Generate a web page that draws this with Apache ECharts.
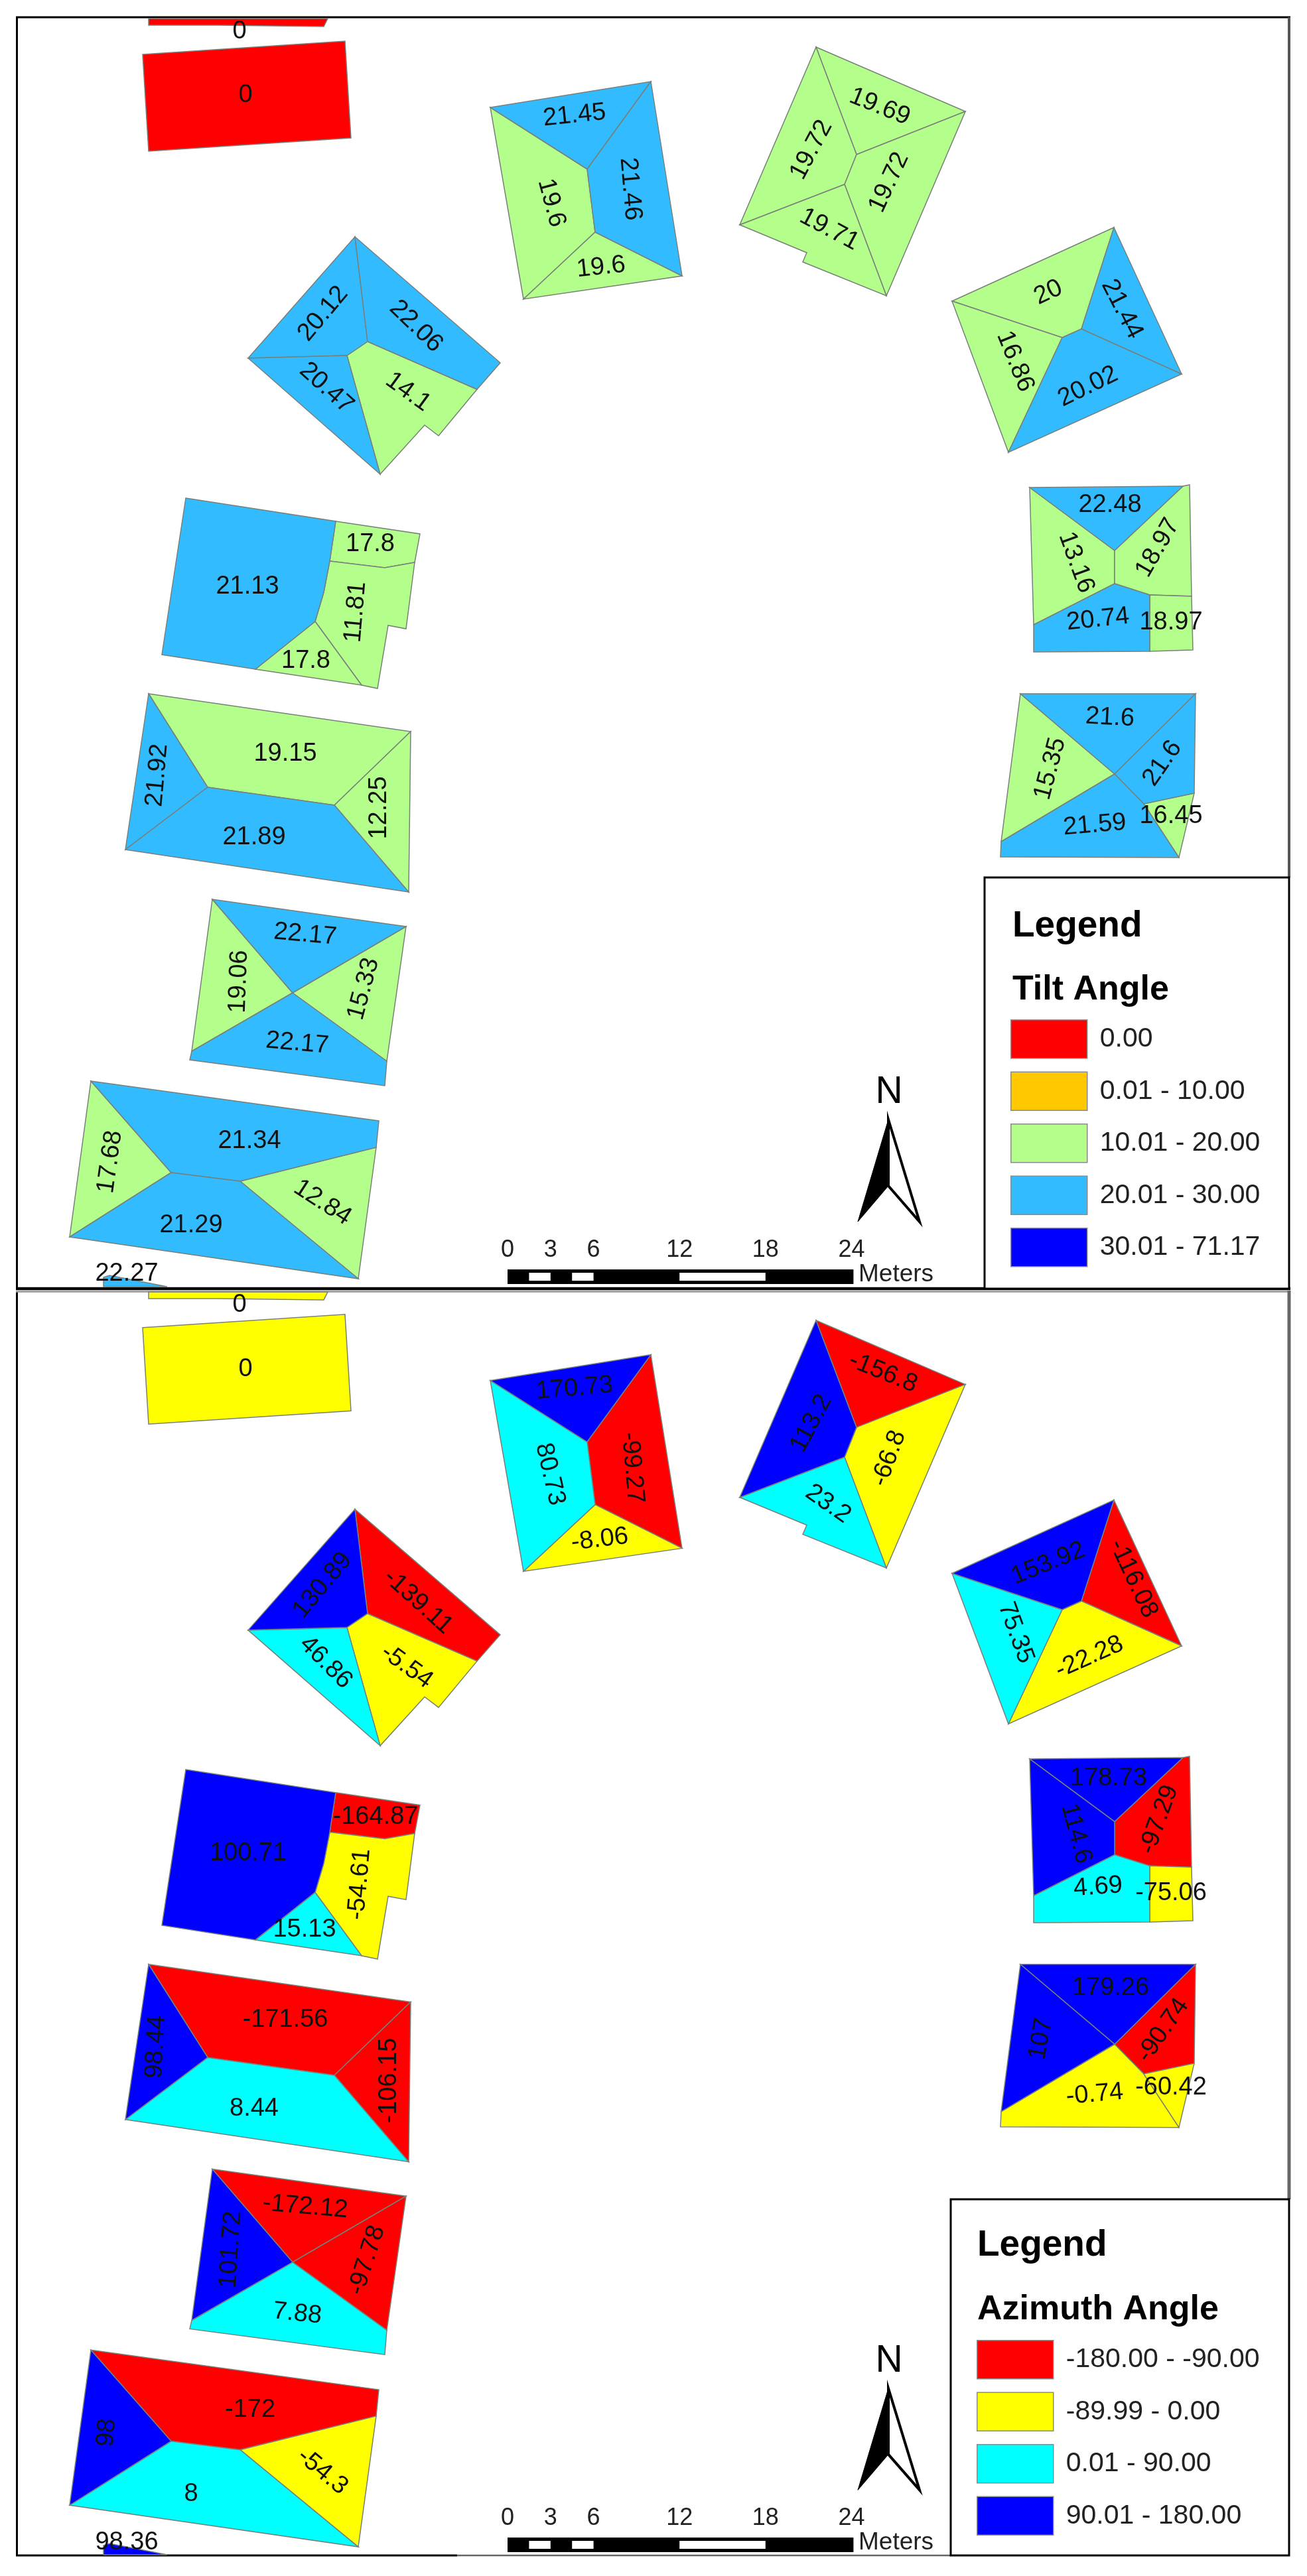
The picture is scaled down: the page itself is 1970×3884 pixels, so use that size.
<!DOCTYPE html>
<html lang="en">
<head>
    <meta charset="UTF-8">
    <title>Tilt and azimuth angle of roof facets</title>
    <script src="https://cdn.jsdelivr.net/npm/echarts@6/dist/echarts.min.js"></script>
    <style>
        html, body { margin: 0; padding: 0; background: #fff; }
    </style>
</head>
<body>
<div id="chart" style="width:1970px;height:3884px"></div>
<script>
    // roof facets, vertices in map units (same map in both panels)
    var roofFacets = [
        [[224, 28], [224, 38], [330, 38], [488, 40], [494, 28]],
        [[215, 82], [520, 62], [529, 208], [224, 228]],
        [[739, 162], [981, 123], [885, 255]],
        [[981, 123], [1028, 416], [897, 350], [885, 255]],
        [[739, 162], [885, 255], [897, 350], [789, 451]],
        [[789, 451], [897, 350], [1028, 416]],
        [[535, 357], [554, 515], [523, 536], [374, 540]],
        [[535, 357], [754, 547], [719, 587], [554, 515]],
        [[374, 540], [523, 536], [573, 715]],
        [[554, 515], [719, 587], [661, 657], [640, 641], [573, 715], [523, 536]],
        [[280, 751], [506, 786], [497, 846], [488, 893], [475, 937], [385, 1009], [244, 987]],
        [[506, 786], [633, 805], [625, 848], [580, 856], [497, 846]],
        [[497, 846], [580, 856], [625, 848], [612, 948], [585, 943], [569, 1038], [545, 1033], [475, 937], [488, 893]],
        [[475, 937], [545, 1033], [385, 1009]],
        [[224, 1046], [619, 1103], [504, 1214], [313, 1187]],
        [[224, 1046], [313, 1187], [189, 1281]],
        [[313, 1187], [504, 1214], [616, 1345], [189, 1281]],
        [[619, 1103], [616, 1345], [504, 1214]],
        [[320, 1356], [612, 1397], [441, 1497]],
        [[612, 1397], [583, 1600], [441, 1497]],
        [[320, 1356], [441, 1497], [289, 1585]],
        [[441, 1497], [583, 1600], [580, 1637], [286, 1598], [289, 1585]],
        [[137, 1630], [571, 1690], [567, 1730], [362, 1781], [258, 1768]],
        [[137, 1630], [258, 1768], [105, 1865]],
        [[258, 1768], [362, 1781], [540, 1928], [105, 1865]],
        [[567, 1730], [540, 1928], [362, 1781]],
        [[156, 1926], [165, 1923], [252, 1940], [156, 1940]],
        [[1230, 71], [1455, 168], [1291, 233]],
        [[1230, 71], [1291, 233], [1273, 278], [1115, 339]],
        [[1291, 233], [1455, 168], [1336, 446], [1273, 278]],
        [[1115, 339], [1273, 278], [1336, 446], [1210, 395], [1216, 381]],
        [[1435, 454], [1679, 343], [1630, 496], [1601, 509]],
        [[1679, 343], [1781, 564], [1630, 496]],
        [[1601, 509], [1630, 496], [1781, 564], [1520, 682]],
        [[1435, 454], [1601, 509], [1520, 682]],
        [[1552, 735], [1783, 733], [1680, 830]],
        [[1552, 735], [1680, 830], [1680, 880], [1558, 942]],
        [[1783, 733], [1793, 731], [1796, 899], [1733, 897], [1680, 880], [1680, 830]],
        [[1680, 880], [1733, 897], [1733, 982], [1558, 983], [1558, 942]],
        [[1733, 897], [1796, 899], [1798, 980], [1733, 982]],
        [[1538, 1046], [1802, 1046], [1680, 1167]],
        [[1802, 1046], [1800, 1196], [1724, 1212], [1680, 1167]],
        [[1538, 1046], [1680, 1167], [1509, 1269]],
        [[1680, 1167], [1724, 1212], [1777, 1293], [1508, 1292], [1509, 1269]],
        [[1724, 1212], [1800, 1196], [1777, 1293]]
    ];

    // attribute values, same order as roofFacets
    var tiltValues = [0, 0, 21.45, 21.46, 19.6, 19.6, 20.12, 22.06, 20.47, 14.1, 21.13, 17.8, 11.81, 17.8,
        19.15, 21.92, 21.89, 12.25, 22.17, 15.33, 19.06, 22.17, 21.34, 17.68, 21.29, 12.84, 22.27,
        19.69, 19.72, 19.72, 19.71, 20, 21.44, 20.02, 16.86, 22.48, 13.16, 18.97, 20.74, 18.97,
        21.6, 21.6, 15.35, 21.59, 16.45];
    var azimuthValues = [0, 0, 170.73, -99.27, 80.73, -8.06, 130.89, -139.11, 46.86, -5.54, 100.71, -164.87, -54.61, 15.13,
        -171.56, 98.44, 8.44, -106.15, -172.12, -97.78, 101.72, 7.88, -172, 98, 8, -54.3, 98.36,
        -156.8, 113.2, -66.8, 23.2, 153.92, -116.08, -22.28, 75.35, 178.73, 114.6, -97.29, 4.69, -75.06,
        179.26, -90.74, 107, -0.74, -60.42];

    // label anchors: x, y, degrees clockwise
    var tiltLabelAt = [[361, 48, 0], [370, 144, 0], [866, 174, -6], [950, 285, 85], [831, 306, 75], [906, 403, -6],
        [487, 473, -50], [627, 492, 44], [492, 585, 42], [615, 591, 36], [373, 885, 0], [558, 821, 0], [536, 923, -85], [461, 997, 0],
        [430, 1137, 0], [237, 1169, -85], [383, 1263, 0], [572, 1218, -90], [460, 1409, 5], [548, 1491, -75], [360, 1480, -88], [448, 1573, 5],
        [376, 1721, 0], [166, 1752, -82], [288, 1848, 0], [486, 1813, 33], [191, 1921, 0],
        [1326, 161, 22], [1223, 226, -62], [1340, 275, -65], [1250, 346, 28], [1580, 441, -25], [1691, 466, 63], [1640, 583, -26], [1530, 545, 68],
        [1673, 762, 0], [1622, 848, 70], [1745, 826, -60], [1655, 934, -6], [1765, 939, 0],
        [1673, 1082, 3], [1752, 1151, -55], [1583, 1159, -75], [1650, 1244, -5], [1765, 1231, 0]];
    var azimuthLabelAt = [[361, 48, 0], [370, 145, 0], [866, 174, -5], [953, 294, 85], [829, 304, 77], [904, 403, -7],
        [486, 472, -50], [630, 497, 42], [491, 589, 45], [613, 595, 36], [374, 878, 0], [566, 823, 0], [542, 925, -85], [459, 994, 0],
        [430, 1130, 0], [235, 1171, -87], [383, 1265, 0], [587, 1222, -90], [460, 1413, 5], [553, 1494, -72], [348, 1478, -86], [448, 1575, 6],
        [377, 1721, 0], [161, 1755, -85], [288, 1848, 0], [486, 1814, 40], [191, 1921, 0],
        [1331, 150, 22], [1223, 227, -62], [1340, 280, -70], [1248, 349, 35], [1580, 439, -22], [1708, 462, 65], [1642, 581, -24], [1531, 544, 70],
        [1671, 765, 0], [1622, 848, 75], [1747, 827, -70], [1655, 929, -4], [1765, 938, 0],
        [1674, 1082, 0], [1753, 1146, -55], [1569, 1159, -80], [1650, 1243, -5], [1765, 1233, 0]];

    // legend classes
    var tiltClasses = ['0.00', '0.01 - 10.00', '10.01 - 20.00', '20.01 - 30.00', '30.01 - 71.17'];
    var tiltUpper = [0, 10, 20, 30, 71.17];
    var tiltColors = ['#ff0000', '#ffc800', '#b4ff8c', '#33bbff', '#0000ff'];
    var azimuthClasses = ['-180.00 - -90.00', '-89.99 - 0.00', '0.01 - 90.00', '90.01 - 180.00'];
    var azimuthUpper = [-90, 0, 90, 180];
    var azimuthColors = ['#ff0000', '#ffff00', '#00ffff', '#0000ff'];

    // scale bar in metres, north arrow in map units
    var scaleTicks = [0, 3, 6, 12, 18, 24];
    var scaleWhite = [[1.5, 3], [4.5, 6], [12, 18]];
    var arrowLeft = [[1339, 1688], [1293, 1842], [1339, 1788]];
    var arrowRight = [[1339, 1688], [1386, 1842], [1339, 1788]];

    var FONT = '"Liberation Sans", Arial, sans-serif';
    var metre = function (m) { return 765 + 21.6 * m; };

    function classOf(v, upper) {
        for (var i = 0; i < upper.length; i++) {
            if (v <= upper[i]) return i;
        }
        return upper.length - 1;
    }

    function renderFacet(params, api) {
        var pts = roofFacets[api.value(0)].map(function (p) { return api.coord(p); });
        return {
            type: 'polygon',
            shape: { points: pts },
            style: { fill: api.visual('color'), stroke: '#78807a', lineWidth: 1.5 }
        };
    }

    function facetSeries(names, colors, upper, values, axis) {
        return names.map(function (name, c) {
            var ids = [];
            values.forEach(function (v, i) {
                if (classOf(v, upper) === c) ids.push([i]);
            });
            return {
                name: name,
                type: 'custom',
                xAxisIndex: axis,
                yAxisIndex: axis,
                itemStyle: { color: colors[c] },
                silent: true,
                renderItem: renderFacet,
                data: ids
            };
        });
    }

    function labelSeries(values, at, axis) {
        return {
            type: 'custom',
            xAxisIndex: axis,
            yAxisIndex: axis,
            silent: true,
            z: 5,
            renderItem: function (params, api) {
                var i = api.value(0);
                var pos = api.coord([at[i][0], at[i][1]]);
                return {
                    type: 'text',
                    x: pos[0],
                    y: pos[1],
                    rotation: -at[i][2] * Math.PI / 180,
                    style: {
                        text: String(values[i]),
                        fill: '#111',
                        font: '38px ' + FONT,
                        align: 'center',
                        verticalAlign: 'middle'
                    }
                };
            },
            data: values.map(function (v, i) { return [i]; })
        };
    }

    function mapDecoration(axis) {
        return {
            type: 'custom',
            xAxisIndex: axis,
            yAxisIndex: axis,
            silent: true,
            z: 4,
            renderItem: function (params, api) {
                var kids = [];
                var a = api.coord([metre(0), 1914]);
                var b = api.coord([metre(24) + 3, 1936]);
                kids.push({ type: 'rect', shape: { x: a[0], y: a[1], width: b[0] - a[0], height: b[1] - a[1] }, style: { fill: '#000' } });
                scaleWhite.forEach(function (w) {
                    var p = api.coord([metre(w[0]), 1919]);
                    var q = api.coord([metre(w[1]), 1931]);
                    kids.push({ type: 'rect', shape: { x: p[0], y: p[1], width: q[0] - p[0], height: q[1] - p[1] }, style: { fill: '#fff' } });
                });
                scaleTicks.forEach(function (t) {
                    var p = api.coord([metre(t), 1885]);
                    kids.push({ type: 'text', x: p[0], y: p[1], style: { text: String(t), fill: '#222', font: '36px ' + FONT, align: 'center', verticalAlign: 'middle' } });
                });
                var m = api.coord([1294, 1922]);
                kids.push({ type: 'text', x: m[0], y: m[1], style: { text: 'Meters', fill: '#222', font: '37px ' + FONT, align: 'left', verticalAlign: 'middle' } });
                var n = api.coord([1340, 1647]);
                kids.push({ type: 'text', x: n[0], y: n[1], style: { text: 'N', fill: '#000', font: '57px ' + FONT, align: 'center', verticalAlign: 'middle' } });
                kids.push({
                    type: 'polygon',
                    shape: { points: arrowRight.map(function (p) { return api.coord(p); }) },
                    style: { fill: '#fff', stroke: '#000', lineWidth: 4 }
                });
                kids.push({
                    type: 'polygon',
                    shape: { points: arrowLeft.map(function (p) { return api.coord(p); }) },
                    style: { fill: '#000', stroke: '#000', lineWidth: 1 }
                });
                return { type: 'group', children: kids };
            },
            data: [[0]]
        };
    }

    function hiddenAxis(extra) {
        return Object.assign({ type: 'value', show: false, scale: true }, extra);
    }

    function legendOpt(names, left, top) {
        return {
            data: names,
            orient: 'vertical',
            left: left,
            top: top,
            padding: 0,
            icon: 'rect',
            itemWidth: 115,
            itemHeight: 58,
            itemGap: 19,
            selectedMode: false,
            itemStyle: { borderColor: '#8a8a8a', borderWidth: 1.5 },
            textStyle: { fontFamily: FONT, fontSize: 41, color: '#222', padding: [0, 0, 0, 14] }
        };
    }

    function titleOpt(text, left, top, size) {
        return { text: text, left: left, top: top, padding: 0, textStyle: { fontFamily: FONT, fontSize: size, fontWeight: 'bold', color: '#000' } };
    }

    function frameLine(x1, y1, x2, y2, color, w) {
        return { type: 'line', shape: { x1: x1, y1: y1, x2: x2, y2: y2 }, style: { stroke: color, lineWidth: w } };
    }

    var myChart = echarts.init(document.getElementById('chart'), null, { renderer: 'canvas' });
    var option = {
        backgroundColor: '#ffffff',
        animation: false,
        grid: [
            { left: 0, top: 26, width: 1970, height: 1917 },
            { left: 0, top: 1946, width: 1970, height: 1909 }
        ],
        xAxis: [
            hiddenAxis({ gridIndex: 0, min: 0, max: 1970 }),
            hiddenAxis({ gridIndex: 1, min: 0, max: 1970 })
        ],
        yAxis: [
            hiddenAxis({ gridIndex: 0, min: 26, max: 1943, inverse: true }),
            hiddenAxis({ gridIndex: 1, min: 26, max: 1943, inverse: true })
        ],
        title: [
            titleOpt('Legend', 1526, 1369, 55),
            titleOpt('Tilt Angle', 1526, 1467, 52),
            titleOpt('Legend', 1473, 3358, 55),
            titleOpt('Azimuth Angle', 1473, 3457, 52)
        ],
        legend: [
            legendOpt(tiltClasses, 1523, 1537),
            legendOpt(azimuthClasses, 1472, 3528)
        ],
        graphic: [
            frameLine(24, 26, 1945, 26, '#000', 3),
            frameLine(25.5, 26, 25.5, 1945, '#000', 3),
            frameLine(24, 1943, 1945, 1943, '#000', 4.5),
            frameLine(1943, 26, 1943, 1323, '#555', 4),
            frameLine(25.5, 1947.5, 25.5, 3854, '#000', 3),
            frameLine(24, 1947.5, 1941, 1947.5, '#999', 2.5),
            frameLine(1943, 1946, 1943, 3316, '#666', 5),
            frameLine(24, 3853, 689, 3853, '#000', 3),
            frameLine(689, 3853, 1433, 3853, '#666', 2.5),
            { type: 'rect', shape: { x: 1484, y: 1323, width: 459, height: 620 }, style: { fill: '#fff', stroke: '#000', lineWidth: 3 } },
            { type: 'rect', shape: { x: 1433, y: 3316, width: 510, height: 537 }, style: { fill: '#fff', stroke: '#000', lineWidth: 3 } }
        ],
        series: [].concat(
            facetSeries(tiltClasses, tiltColors, tiltUpper, tiltValues, 0),
            facetSeries(azimuthClasses, azimuthColors, azimuthUpper, azimuthValues, 1),
            [mapDecoration(0), mapDecoration(1), labelSeries(tiltValues, tiltLabelAt, 0), labelSeries(azimuthValues, azimuthLabelAt, 1)]
        )
    };

    option && myChart.setOption(option);
</script>
</body>
</html>
